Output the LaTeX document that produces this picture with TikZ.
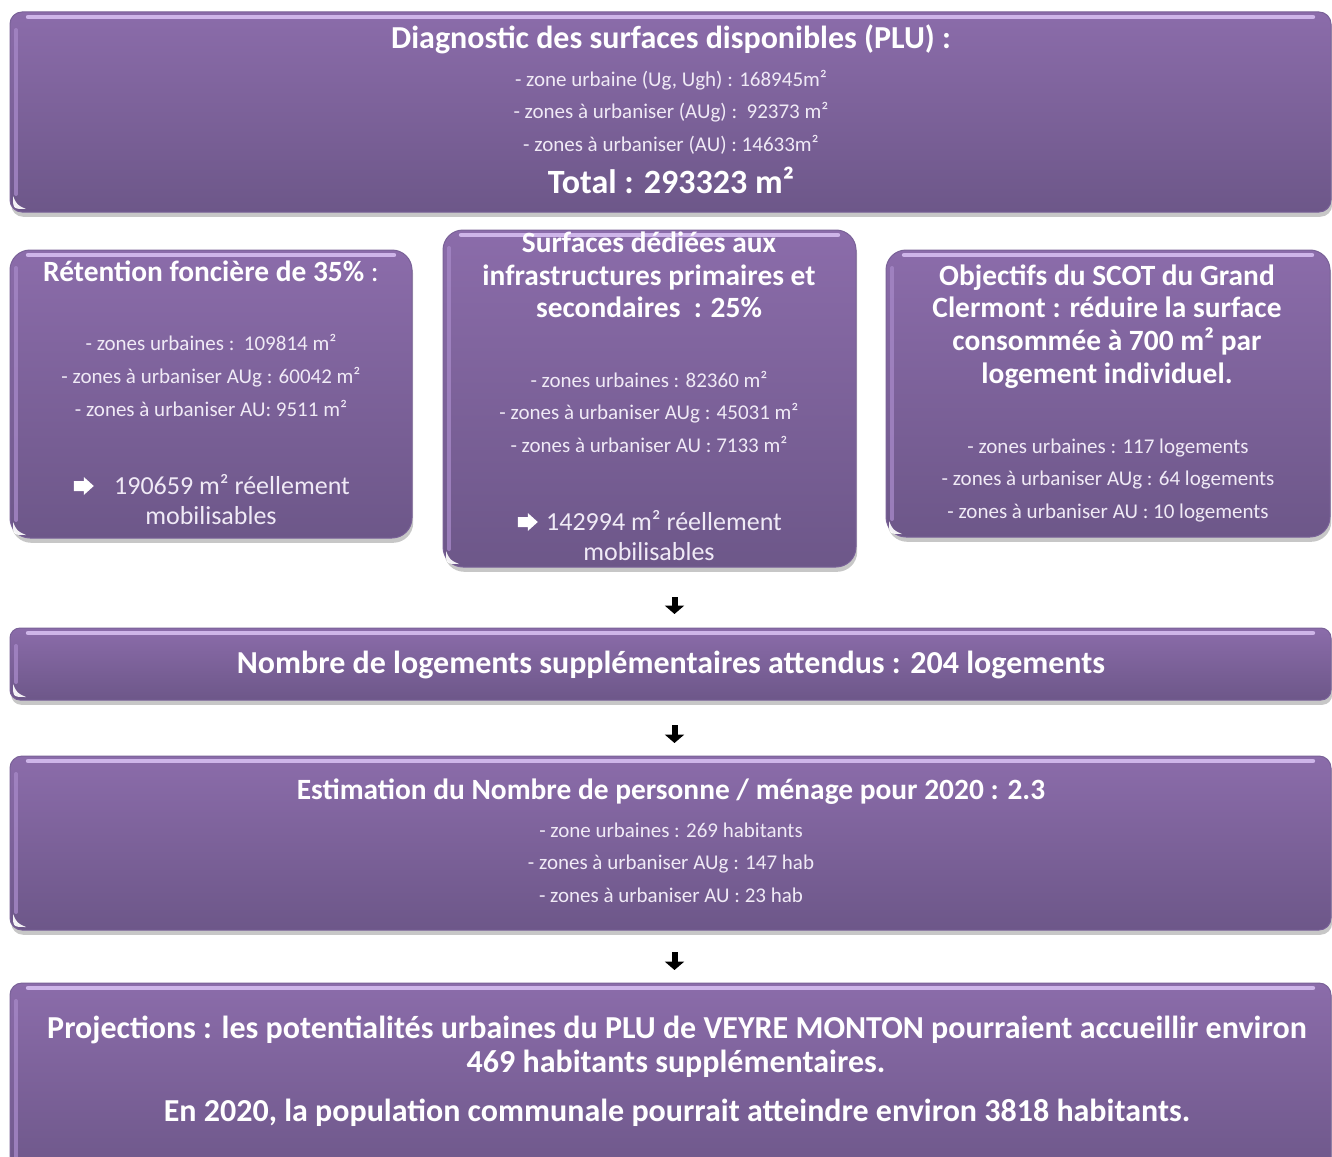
\documentclass[tikz,border=0pt]{standalone}
\usepackage{fontspec}
\setmainfont{Carlito}
\usetikzlibrary{arrows.meta,calc,fit,shadows}
\definecolor{boxtop}{RGB}{139,108,170}
\definecolor{boxbot}{RGB}{109,87,137}
\definecolor{boxedge}{RGB}{122,98,152}
\definecolor{rimtop}{RGB}{214,190,240}
\definecolor{rimleft}{RGB}{165,135,198}
\definecolor{softwhite}{RGB}{240,234,246}
\tikzset{
  panel/.style={rounded corners=#1, top color=boxtop, bottom color=boxbot,
    draw=boxedge, line width=0.5pt, inner sep=0pt, outer sep=0pt,
    drop shadow={shadow xshift=0.6pt, shadow yshift=-2.4pt, opacity=0.22, fill=black}},
  bigt/.style={text=white, font=\bfseries\fontsize{16}{19}\selectfont, inner sep=0pt, text height=10.3pt, text depth=0pt},
  tott/.style={text=white, font=\bfseries\fontsize{17}{20}\selectfont, inner sep=0pt, text height=10.95pt, text depth=0pt},
  midt/.style={text=white, font=\bfseries\fontsize{14.7}{17}\selectfont, inner sep=0pt, text height=9.47pt, text depth=0pt},
  sm/.style={text=softwhite, font=\fontsize{10.5}{12}\selectfont, inner sep=0pt, text height=6.76pt, text depth=0pt},
  res/.style={text=softwhite, font=\fontsize{13}{15}\selectfont, inner sep=0pt, text height=8.37pt, text depth=0pt},
  dnarrow/.style={draw=black, line width=3pt, -{Triangle[width=9.5pt,length=4.2pt]}},
  pointer/.style={fill=white},
}
\newcommand\panelrims[1]{%
  \draw[rimtop, line width=2.2pt, line cap=round, opacity=0.9] ($(#1.north west)+(18,5)$) -- ($(#1.north east)+(-18,5)$);
  \draw[rimleft, line width=2pt, line cap=round, opacity=0.8] ($(#1.north west)+(6,18)$) -- ($(#1.south west)+(6,-18)$);
  \fill[white, opacity=0.92] ($(#1.south west)+(3,-16)$) .. controls ($(#1.south west)+(3,-3)$) .. ($(#1.south west)+(16,-3)$) .. controls ($(#1.south west)+(7,-7)$) .. cycle;
}
% white block arrow ending #2 px left of node #1's west side
\newcommand\blockpointer[2]{%
  \fill[pointer] ($(#1.west)+(-#2-20,-5)$) -- ($(#1.west)+(-#2-10,-5)$) -- ($(#1.west)+(-#2-10,-9)$)
    -- ($(#1.west)+(-#2,0)$) -- ($(#1.west)+(-#2-10,9)$) -- ($(#1.west)+(-#2-10,5)$)
    -- ($(#1.west)+(-#2-20,5)$) -- cycle;
}
\begin{document}
\begin{tikzpicture}[x=0.5pt,y=-0.5pt]
\clip (0,0) rectangle (1332,1156);
\fill[white] (0,0) rectangle (1332,1156);

% ---------- Box 1
\node[panel=6pt, fit={(10,12) (1331,212)}] (b1) {};
\panelrims{b1}
\node[bigt] (t1) at (671,38) {Diagnostic des surfaces disponibles (PLU) :};
\node[sm] (t1a) at (671,80) {- zone urbaine (Ug, Ugh) : 168945m²};
\node[sm] (t1b) at (671,112) {- zones à urbaniser (AUg) :\ \ 92373 m²};
\node[sm] (t1c) at (671,145) {- zones à urbaniser (AU) : 14633m²};
\node[tott] (t1d) at (671,183) {Total : 293323 m²};

% ---------- Box 2
\node[panel=10pt, fit={(10,250) (412,538)}] (b2) {};
\panelrims{b2}
\node[midt] (t2) at (211,272) {Rétention foncière de 35\% {\mdseries :}};
\node[sm] (t2a) at (211,344) {- zones urbaines :\ \ 109814 m²};
\node[sm] (t2b) at (211,377) {- zones à urbaniser AUg : 60042 m²};
\node[sm] (t2c) at (211,410) {- zones à urbaniser AU: 9511 m²};
\node[res] (t2d) at (232,486) {190659 m² réellement};
\blockpointer{t2d}{20}
\node[res] (t2e) at (211,516) {mobilisables};

% ---------- Box 3
\node[panel=10pt, fit={(443,230) (856,567)}] (b3) {};
\panelrims{b3}
\node[midt] (t3) at (649,243) {Surfaces dédiées aux};
\node[midt] (t3b) at (649,276) {infrastructures primaires et};
\node[midt] (t3c) at (649,308) {secondaires\ \ : 25\%};
\node[sm] (t3d) at (649,381) {- zones urbaines : 82360 m²};
\node[sm] (t3e) at (649,413) {- zones à urbaniser AUg : 45031 m²};
\node[sm] (t3f) at (649,446) {- zones à urbaniser AU : 7133 m²};
\node[res] (t3g) at (664,522) {142994 m² réellement};
\blockpointer{t3g}{8}
\node[res] (t3h) at (649,552) {mobilisables};

% ---------- Box 4
\node[panel=10pt, fit={(886,250) (1330,537)}] (b4) {};
\panelrims{b4}
\node[midt] (t4) at (1107,276) {Objectifs du SCOT du Grand};
\node[midt] (t4b) at (1107,308) {Clermont : réduire la surface};
\node[midt] (t4c) at (1107,341) {consommée à 700 m² par};
\node[midt] (t4d) at (1107,374) {logement individuel.};
\node[sm] (t4e) at (1108,447) {- zones urbaines : 117 logements};
\node[sm] (t4f) at (1108,479) {- zones à urbaniser AUg : 64 logements};
\node[sm] (t4g) at (1108,512) {- zones à urbaniser AU : 10 logements};

% ---------- Box 5
\node[panel=5pt, fit={(10,628) (1331,700)}] (b5) {};
\panelrims{b5}
\node[bigt] (t5) at (671,663) {Nombre de logements supplémentaires attendus : 204 logements};

% ---------- Box 6
\node[panel=6pt, fit={(10,756) (1331,930)}] (b6) {};
\panelrims{b6}
\node[midt] (t6) at (671,790) {Estimation du Nombre de personne / ménage pour 2020 : 2.3};
\node[sm] (t6a) at (671,831) {- zone urbaines : 269 habitants};
\node[sm] (t6b) at (671,863) {- zones à urbaniser AUg : 147 hab};
\node[sm] (t6c) at (671,896) {- zones à urbaniser AU : 23 hab};

% ---------- Box 7
\node[panel=6pt, fit={(10,983) (1331,1180)}] (b7) {};
\panelrims{b7}
\node[bigt] (t7) at (677,1028) {Projections : les potentialités urbaines du PLU de VEYRE MONTON pourraient accueillir environ};
\node[bigt] (t7b) at (676,1062) {469 habitants supplémentaires.};
\node[bigt] (t7c) at (677,1111) {En 2020, la population communale pourrait atteindre environ 3818 habitants.};

% ---------- arrows
\draw[dnarrow] ($(b5.north)+(4,-31)$) -- ($(b5.north)+(4,-14)$);
\draw[dnarrow] ($(b6.north)+(4,-31)$) -- ($(b6.north)+(4,-13)$);
\draw[dnarrow] ($(b7.north)+(4,-31)$) -- ($(b7.north)+(4,-13)$);
\end{tikzpicture}
\end{document}
